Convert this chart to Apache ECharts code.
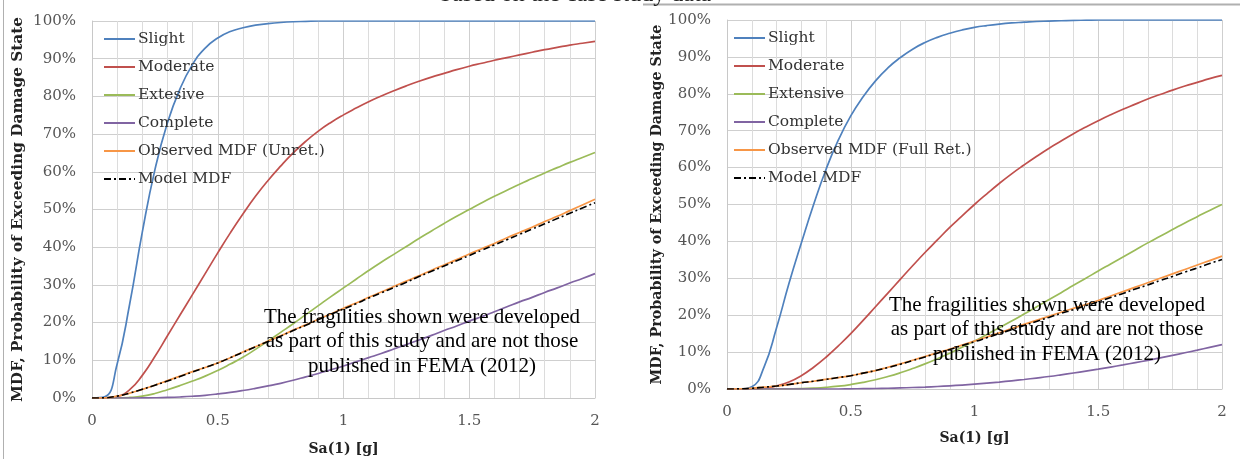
<!DOCTYPE html>
<html><head><meta charset="utf-8">
<script src="https://cdn.jsdelivr.net/npm/echarts@6/dist/echarts.min.js"></script>
<style>html,body{margin:0;padding:0;background:#fff}#c{width:1240px;height:459px}</style>
</head><body><div id="c"></div>
<script>
// x positions: Sa(1) [g], 0 .. 2 step 0.05
const xs = [0,0.05,0.1,0.15,0.2,0.25,0.3,0.35,0.4,0.45,0.5,0.55,0.6,0.65,0.7,0.75,0.8,0.85,0.9,0.95,1,1.05,1.1,1.15,1.2,1.25,1.3,1.35,1.4,1.45,1.5,1.55,1.6,1.65,1.7,1.75,1.8,1.85,1.9,1.95,2];
const xTicks = ['0','0.5','1','1.5','2'];

// Left panel (Unretrofitted)
const leftNames = ['Slight','Moderate','Extesive','Complete','Observed MDF (Unret.)','Model MDF'];
const L_slight = [0,0.003,0.09,0.25,0.44,0.605,0.73,0.82,0.885,0.928,0.955,0.972,0.982,0.989,0.993,0.996,0.998,0.999,1,1,1,1,1,1,1,1,1,1,1,1,1,1,1,1,1,1,1,1,1,1,1];
const L_mod = [0,0,0.004,0.022,0.06,0.11,0.165,0.22,0.275,0.33,0.385,0.438,0.488,0.535,0.577,0.615,0.65,0.681,0.708,0.731,0.751,0.769,0.786,0.801,0.815,0.828,0.84,0.851,0.861,0.871,0.88,0.888,0.896,0.903,0.91,0.917,0.924,0.93,0.936,0.941,0.946];
const L_ext = [0,0,0.0001,0.0015,0.005,0.012,0.022,0.033,0.045,0.058,0.073,0.09,0.108,0.129,0.151,0.174,0.197,0.221,0.245,0.269,0.292,0.315,0.338,0.36,0.381,0.402,0.423,0.443,0.463,0.482,0.50,0.518,0.535,0.551,0.567,0.582,0.597,0.611,0.625,0.638,0.651];
const L_comp = [0,0,0,0,0.0002,0.0006,0.0014,0.0027,0.0046,0.0072,0.0107,0.0148,0.0198,0.0256,0.032,0.039,0.047,0.056,0.065,0.075,0.085,0.096,0.107,0.118,0.13,0.142,0.154,0.166,0.179,0.191,0.204,0.216,0.229,0.242,0.255,0.267,0.28,0.292,0.305,0.317,0.33];
const L_obs = [0,0.0005,0.005,0.013,0.023,0.034,0.046,0.058,0.07,0.081,0.093,0.107,0.122,0.136,0.151,0.165,0.18,0.194,0.209,0.223,0.238,0.252,0.267,0.281,0.296,0.31,0.324,0.339,0.353,0.367,0.382,0.396,0.41,0.425,0.439,0.453,0.468,0.482,0.497,0.512,0.527];
const L_model = [0,0.0005,0.005,0.013,0.023,0.034,0.045,0.057,0.069,0.081,0.093,0.107,0.121,0.136,0.15,0.164,0.179,0.193,0.208,0.222,0.236,0.25,0.265,0.279,0.293,0.307,0.322,0.336,0.35,0.364,0.378,0.392,0.406,0.42,0.434,0.448,0.462,0.476,0.49,0.504,0.518];

// Right panel (Full Retrofit)
const rightNames = ['Slight','Moderate','Extensive','Complete','Observed MDF (Full Ret.)','Model MDF'];
const R_slight = [0,0,0.006,0.06,0.165,0.285,0.395,0.5,0.595,0.675,0.74,0.792,0.835,0.87,0.898,0.921,0.939,0.953,0.964,0.973,0.98,0.985,0.989,0.992,0.994,0.996,0.997,0.998,0.999,0.9995,1,1,1,1,1,1,1,1,1,1,1];
const R_mod = [0,0,0.0003,0.0023,0.0082,0.019,0.036,0.059,0.086,0.117,0.15,0.186,0.223,0.26,0.297,0.334,0.37,0.404,0.438,0.469,0.5,0.529,0.557,0.583,0.607,0.63,0.652,0.672,0.692,0.71,0.727,0.743,0.758,0.772,0.786,0.798,0.81,0.821,0.831,0.841,0.85];
const R_ext = [0,0,0,0,0.0001,0.0004,0.001,0.0023,0.0044,0.0076,0.0121,0.0179,0.0251,0.0338,0.0439,0.0554,0.068,0.082,0.097,0.113,0.13,0.148,0.166,0.184,0.203,0.222,0.242,0.261,0.281,0.30,0.32,0.339,0.358,0.377,0.396,0.414,0.432,0.45,0.467,0.484,0.50];
const R_comp = [0,0,0,0,0,0,0,0,0,0,0.0005,0.0009,0.0014,0.002,0.0029,0.004,0.0052,0.0068,0.0086,0.0107,0.0131,0.0158,0.0188,0.0222,0.0258,0.0297,0.0338,0.0384,0.0433,0.0484,0.0537,0.0594,0.0653,0.0715,0.0778,0.0845,0.0913,0.0982,0.1053,0.1127,0.1202];
const R_obs = [0,0.0005,0.002,0.005,0.008,0.012,0.017,0.021,0.026,0.031,0.036,0.043,0.05,0.059,0.068,0.078,0.088,0.098,0.108,0.119,0.13,0.141,0.152,0.164,0.175,0.186,0.197,0.208,0.219,0.229,0.24,0.252,0.264,0.276,0.288,0.3,0.312,0.324,0.336,0.348,0.36];
const R_model = [0,0.0005,0.002,0.005,0.008,0.012,0.017,0.021,0.026,0.031,0.036,0.043,0.05,0.058,0.067,0.077,0.087,0.097,0.107,0.118,0.128,0.139,0.15,0.161,0.172,0.183,0.194,0.205,0.215,0.226,0.236,0.248,0.259,0.271,0.282,0.294,0.305,0.317,0.328,0.34,0.351];

const colors = ['#4f81bd','#c0504d','#9bbb59','#8064a2','#f79646','#000000'];
const serif = 'DejaVu Serif';

function pairs(arr){ return xs.map((x,i)=>[x,arr[i]]); }

function mkSeries(names, arrs, idx){
  return arrs.map((a,i)=>({
    name: names[i], type:'line', xAxisIndex: idx, yAxisIndex: idx,
    data: pairs(a), symbol:'none', smooth:0.5,
    lineStyle: i===5 ? {color:'#000', width:1.6, type:[7,3,2,3]} : {color:colors[i], width:1.7},
    itemStyle: {color: colors[i]},
    z: i===5 ? 5 : 3
  }));
}

const xAxisBase = (idx)=>({
  type:'value', gridIndex: idx, min:0, max:2, interval:0.5,
  name:'Sa(1) [g]', nameLocation:'middle', nameGap: idx===0?44:42,
  nameTextStyle:{fontFamily:serif, fontWeight:'bold', fontSize:14, color:'#222'},
  axisLine:{show:true, lineStyle:{color:'#c8c8c8'}}, axisTick:{show:false},
  axisLabel:{fontFamily:serif, fontSize:15, color:'#555', margin:16,
    formatter:(v)=>{ const s = xTicks.find(t=>Math.abs(parseFloat(t)-v)<1e-9); return s===undefined?'':s; }},
  splitLine:{show:true, lineStyle:{color:'#cfcfcf', width:1}},
  minorTick:{show:false, splitNumber:5},
  minorSplitLine:{show:true, lineStyle:{color:'#dcdcdc', width:1}}
});
const yAxisBase = (idx)=>({
  type:'value', gridIndex: idx, min:0, max:1, interval:0.1,
  name:'MDF, Probability of Exceeding Damage State', nameLocation:'middle', nameGap: idx===0?66:56,
  nameTextStyle:{fontFamily:serif, fontWeight:'bold', fontSize: idx===0?15.3:14.3, color:'#222'},
  axisLine:{show:true, lineStyle:{color:'#c8c8c8'}}, axisTick:{show:false},
  axisLabel:{fontFamily:serif, fontSize:15, color:'#555', margin:16,
    formatter:(v)=>Math.round(v*100)+'%'},
  splitLine:{show:true, lineStyle:{color:'#cfcfcf', width:1}}
});

const legendBase = (names, left, top)=>({
  data: names, orient:'vertical', left:left, top:top, itemWidth:31, itemHeight:14, itemGap:12,
  itemStyle:{opacity:0},
  textStyle:{fontFamily:serif, fontSize:15.5, color:'#333', padding:[0,0,0,-2]},
  selectedMode:false
});

const chart = echarts.init(document.getElementById('c'), null, {renderer:'canvas'});
chart.setOption({
  backgroundColor:'#fff',
  animation:false,
  grid:[
    {left:92, top:21, width:503, height:377, outerBoundsMode:'none'},
    {left:727, top:20, width:495, height:369, outerBoundsMode:'none'}
  ],
  xAxis:[xAxisBase(0), xAxisBase(1)],
  yAxis:[yAxisBase(0), yAxisBase(1)],
  legend:[legendBase(leftNames, 98, 26), legendBase(rightNames, 728, 25)],
  series:[].concat(
    mkSeries(leftNames, [L_slight,L_mod,L_ext,L_comp,L_obs,L_model], 0),
    mkSeries(rightNames, [R_slight,R_mod,R_ext,R_comp,R_obs,R_model], 1)
  ),
  graphic:[
    {type:'line', shape:{x1:3.5,y1:0,x2:3.5,y2:459}, style:{stroke:'#b0b0b0', lineWidth:1}, silent:true},
    {type:'line', shape:{x1:643,y1:4.5,x2:1240,y2:4.5}, style:{stroke:'#b0b0b0', lineWidth:2}, silent:true},
    {type:'text', left:440, top:-17, silent:true,
      style:{text:'based on the case study data', font:'24px "Liberation Serif"', fill:'#222'}},
    {type:'text', x:422, y:305, silent:true, z:10,
      style:{text:'The fragilities shown were developed\nas part of this study and are not those\npublished in FEMA (2012)',
        font:'21px "Liberation Serif"', fill:'#000', textAlign:'center', textVerticalAlign:'top', lineHeight:24.5}},
    {type:'text', x:1047, y:293, silent:true, z:10,
      style:{text:'The fragilities shown were developed\nas part of this study and are not those\npublished in FEMA (2012)',
        font:'21px "Liberation Serif"', fill:'#000', textAlign:'center', textVerticalAlign:'top', lineHeight:24.5}}
  ]
});
</script></body></html>
